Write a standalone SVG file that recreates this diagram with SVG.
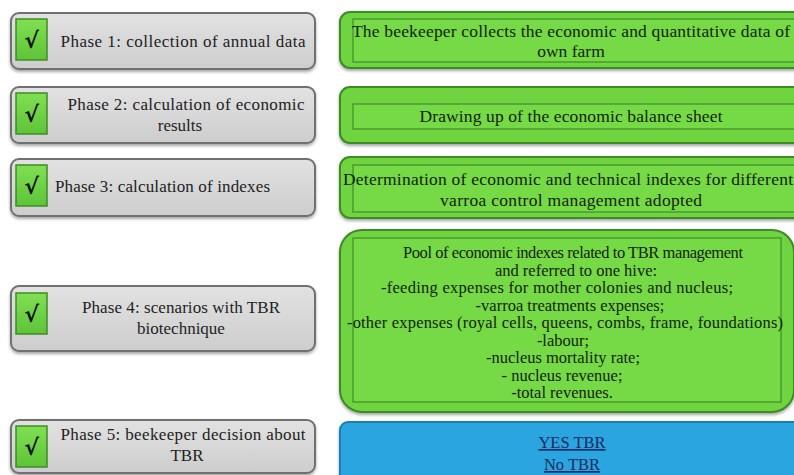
<svg xmlns="http://www.w3.org/2000/svg" width="794" height="475" viewBox="0 0 794 475">
<defs>
<linearGradient id="gGrey" x1="0" y1="0" x2="0" y2="1">
<stop offset="0" stop-color="#e2e2e2"/><stop offset="1" stop-color="#cdcdcd"/>
</linearGradient>
<linearGradient id="gCheck" x1="0" y1="0" x2="0" y2="1">
<stop offset="0" stop-color="#80e052"/><stop offset="1" stop-color="#5ec338"/>
</linearGradient>
<filter id="sh" x="-5%" y="-10%" width="110%" height="130%">
<feDropShadow dx="0" dy="2" stdDeviation="1.5" flood-color="#000" flood-opacity="0.35"/>
</filter>
</defs>
<style>
.grey{fill:url(#gGrey);stroke:#707070;stroke-width:2;filter:url(#sh)}
.chk{fill:url(#gCheck);stroke:#3f8c25;stroke-width:1.5}
.ck{font-family:"DejaVu Sans",sans-serif;font-size:22px;font-weight:bold;fill:#111;text-anchor:middle}
.green{fill:#70d341;stroke:#3d8a27;stroke-width:2;filter:url(#sh)}
.inner{fill:#76d946;stroke:#4b9a30;stroke-width:1.5}
.blue{fill:#2ba5e0;stroke:#1f7db5;stroke-width:2;filter:url(#sh)}
.t{font-family:"Liberation Serif",serif;font-size:17px;fill:#222;text-anchor:middle}
.tg{font-family:"Liberation Serif",serif;font-size:17.5px;fill:#14240c;text-anchor:middle}
.ts{font-family:"Liberation Serif",serif;font-size:16.5px;fill:#14240c;text-anchor:middle}
.tb{font-family:"Liberation Serif",serif;font-size:16.5px;fill:#1a2a60;text-anchor:middle;text-decoration:underline}
</style>
<rect width="794" height="475" fill="#ffffff"/>

<g id="phase1">
<rect class="grey" x="11" y="13" width="304" height="56" rx="8"/>
<rect class="chk" x="16" y="19" width="31" height="41"/>
<text class="ck" x="31.5" y="48">√</text>
<text class="t" x="183" y="47" textLength="245">Phase 1: collection of annual data</text>
</g>
<g id="phase2">
<rect class="grey" x="11" y="87" width="304" height="56" rx="8"/>
<rect class="chk" x="16" y="93" width="31" height="41"/>
<text class="ck" x="31.5" y="122">√</text>
<text class="t" x="186" y="110" textLength="237">Phase 2: calculation of economic</text>
<text class="t" x="180" y="131">results</text>
</g>
<g id="phase3">
<rect class="grey" x="11" y="159" width="304" height="57" rx="8"/>
<rect class="chk" x="16" y="165" width="31" height="41"/>
<text class="ck" x="31.5" y="194">√</text>
<text class="t" x="55" y="192" style="text-anchor:start" textLength="215">Phase 3: calculation of indexes</text>
</g>
<g id="phase4">
<rect class="grey" x="11" y="286" width="304" height="65" rx="8"/>
<rect class="chk" x="16" y="293" width="31" height="41"/>
<text class="ck" x="31.5" y="322">√</text>
<text class="t" x="181" y="313" textLength="198">Phase 4: scenarios with TBR</text>
<text class="t" x="181" y="334">biotechnique</text>
</g>
<g id="phase5">
<rect class="grey" x="11" y="420" width="304" height="53" rx="8"/>
<rect class="chk" x="16" y="426" width="31" height="41"/>
<text class="ck" x="31.5" y="455">√</text>
<text class="t" x="183" y="440" textLength="245">Phase 5:  beekeeper decision about</text>
<text class="t" x="187" y="461">TBR</text>
</g>

<g id="step1">
<rect class="green" x="340" y="12" width="480" height="56" rx="10"/>
<rect class="inner" x="353" y="19" width="460" height="43"/>
<text class="tg" x="571" y="37" textLength="438">The beekeeper collects the economic and quantitative data of</text>
<text class="tg" x="571" y="57">own farm</text>
</g>
<g id="step2">
<rect class="green" x="340" y="87" width="480" height="56" rx="10"/>
<rect class="inner" x="353" y="104" width="460" height="25"/>
<text class="tg" x="571" y="122" textLength="303">Drawing up of the economic balance sheet</text>
</g>
<g id="step3">
<rect class="green" x="340" y="157" width="480" height="61" rx="10"/>
<rect class="inner" x="353" y="165" width="460" height="47"/>
<text class="tg" x="568" y="185" textLength="450">Determination of economic and technical indexes for different</text>
<text class="tg" x="571" y="206" textLength="262">varroa control management adopted</text>
</g>
<g id="step4">
<rect class="green" x="340" y="230" width="454" height="182" rx="22"/>
<rect class="inner" x="353" y="238" width="428" height="164"/>
<text class="ts" x="573" y="258" textLength="340">Pool of economic indexes related to TBR management</text>
<text class="ts" x="576" y="275.5">and referred to one hive:</text>
<text class="ts" x="557" y="293" textLength="352">-feeding expenses for mother colonies and nucleus;</text>
<text class="ts" x="570" y="310.5">-varroa treatments expenses;</text>
<text class="ts" x="565" y="328" textLength="436">-other expenses (royal cells, queens, combs, frame, foundations)</text>
<text class="ts" x="563" y="345.5">-labour;</text>
<text class="ts" x="563" y="363">-nucleus mortality rate;</text>
<text class="ts" x="562" y="380.5">- nucleus revenue;</text>
<text class="ts" x="562" y="398">-total revenues.</text>
</g>
<g id="decision">
<rect class="blue" x="340" y="422" width="480" height="70" rx="8"/>
<text class="tb" x="572" y="448">YES TBR</text>
<text class="tb" x="572" y="470">No TBR</text>
</g>
<g id="connectors"></g>
</svg>
